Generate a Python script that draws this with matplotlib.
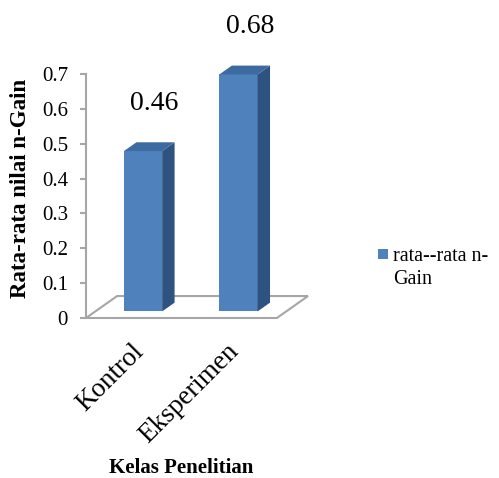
import matplotlib.pyplot as plt
from matplotlib.patches import Polygon, Rectangle

categories = ['Kontrol', 'Eksperimen']
values = [0.46, 0.68]
value_labels = ['0.46', '0.68']
yticks = [0, 0.1, 0.2, 0.3, 0.4, 0.5, 0.6, 0.7]
ytick_labels = ['0', '0.1', '0.2', '0.3', '0.4', '0.5', '0.6', '0.7']
legend_label = 'rata--rata n-\nGain'

plt.rcParams['font.family'] = ['Liberation Serif', 'DejaVu Serif']

W, H = 499, 478
fig = plt.figure(figsize=(W / 100, H / 100), dpi=100)
ax = fig.add_axes([86 / W, (H - 318) / H, 222 / W, 244 / H])

# fake 3d: floor depth vector in data units, bars sit in the middle of the depth
dx, dy = 0.326, 0.063
bw = 0.4
front, back = 0.3, 0.7
c_front, c_side, c_top = '#4F81BD', '#2F5381', '#3D6AA0'
grey = '#A6A6A6'

ax.set_xlim(-0.5, 1.5 + dx)
ax.set_ylim(0, 0.7)

# floor
floor = Polygon([(-0.5, 0), (1.5, 0), (1.5 + dx, dy), (-0.5 + dx, dy)],
                closed=True, facecolor='white', edgecolor=grey, lw=1.5,
                clip_on=False, zorder=1)
ax.add_patch(floor)

for i, v in enumerate(values):
    x0 = i - bw / 2 + front * dx
    y0 = front * dy
    x1 = x0 + bw
    ox = (back - front) * dx
    oy = (back - front) * dy
    ax.add_patch(Polygon([(x0, y0), (x1, y0), (x1, y0 + v), (x0, y0 + v)],
                         facecolor=c_front, edgecolor='none', clip_on=False, zorder=3))
    ax.add_patch(Polygon([(x1, y0), (x1 + ox, y0 + oy), (x1 + ox, y0 + v + oy), (x1, y0 + v)],
                         facecolor=c_side, edgecolor='none', clip_on=False, zorder=3))
    ax.add_patch(Polygon([(x0, y0 + v), (x1, y0 + v), (x1 + ox, y0 + v + oy), (x0 + ox, y0 + v + oy)],
                         facecolor=c_top, edgecolor='none', clip_on=False, zorder=3))
    ax.text(i + 0.216, v + 0.156, value_labels[i], fontsize=20,
            ha='center', va='center', clip_on=False)
    ax.annotate(categories[i], xy=(i - 0.03, 0), xytext=(0, -21),
                textcoords='offset pixels', rotation=45, rotation_mode='anchor',
                ha='right', va='top', fontsize=19.5, annotation_clip=False)

ax.set_xticks([])
ax.set_yticks(yticks)
ax.set_yticklabels(ytick_labels)
ax.tick_params(axis='y', direction='out', length=4, width=1.5, color=grey,
               labelsize=15, pad=9)
for s in ['top', 'right', 'bottom']:
    ax.spines[s].set_visible(False)
ax.spines['left'].set_color(grey)
ax.spines['left'].set_linewidth(1.5)
ax.patch.set_alpha(0)

fig.text(21 / W, 1 - 188 / H, 'Rata-rata nilai n-Gain', rotation=90,
         fontsize=16.5, fontweight='bold', ha='center', va='center')
fig.text(181 / W, 1 - 468 / H, 'Kelas Penelitian', fontsize=15,
         fontweight='bold', ha='center', va='center')

# legend
fig.add_artist(Rectangle((378 / W, 1 - 259 / H), 10 / W, 10 / H,
                         transform=fig.transFigure, facecolor=c_front, edgecolor='none'))
fig.text(393 / W, 1 - 247 / H, legend_label, fontsize=14.5, ha='left', va='top',
         linespacing=1.3)

fig.savefig('out.png', dpi=100)
